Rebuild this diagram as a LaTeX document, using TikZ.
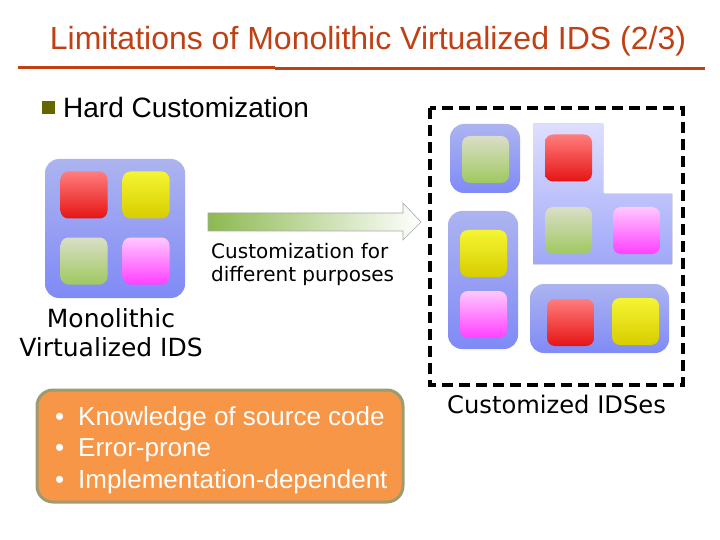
\documentclass[tikz,border=0pt]{standalone}
\usepackage{fontspec}
\setmainfont{Liberation Sans}
\newfontfamily\verd{DejaVu Sans}
\definecolor{titlered}{RGB}{192,64,20}
\definecolor{olivebox}{RGB}{102,102,0}
\definecolor{idstop}{RGB}{172,180,240}
\definecolor{idsbot}{RGB}{128,138,246}
\definecolor{ltop}{RGB}{222,222,255}
\definecolor{lbot}{RGB}{160,168,248}
\definecolor{notefill}{RGB}{247,150,70}
\definecolor{noteline}{RGB}{156,156,112}
\definecolor{arrowgreen}{RGB}{140,185,80}
\begin{document}
\begin{tikzpicture}[x=1pt, y=-1pt,
    panel/.style={rounded corners=14pt, top color=idstop, bottom color=idsbot, inner sep=0pt},
    tile/.style={rounded corners=8pt, minimum size=47pt, inner sep=0pt},
    redtile/.style={tile, top color={rgb,255:red,255;green,125;blue,125}, bottom color={rgb,255:red,230;green,20;blue,20}},
    yellowtile/.style={tile, top color={rgb,255:red,245;green,245;blue,50}, bottom color={rgb,255:red,215;green,205;blue,0}},
    greentile/.style={tile, top color={rgb,255:red,218;green,222;blue,200}, bottom color={rgb,255:red,160;green,200;blue,95}},
    pinktile/.style={tile, top color={rgb,255:red,255;green,200;blue,255}, bottom color={rgb,255:red,255;green,64;blue,255}},
    notetext/.style={anchor=base west, inner sep=0pt, text=white, font=\fontsize{26}{30}\selectfont}]

    \useasboundingbox (0,0) rectangle (720,540);

    % 1. Title and rule
    \node[text=titlered, font=\fontsize{32}{36}\selectfont] (title) at (368,41) {Limitations of Monolithic Virtualized IDS (2/3)};
    \draw[titlered, line width=3pt] (18,67.5) -- (275,67.5);
    \draw[titlered, line width=3pt] (275,69) -- (705,69);

    % 2. Bullet heading
    \fill[olivebox] (42,101) rectangle (55,114);
    \node[anchor=base west, inner sep=0pt, font=\fontsize{28}{32}\selectfont] (hard) at (63,118) {Hard Customization};

    % 3. Monolithic IDS
    \node[panel, minimum width=140pt, minimum height=139pt] (mono) at (115,228.5) {};
    \node[redtile] (m1) at (84,195) {};
    \node[yellowtile] (m2) at (146,195) {};
    \node[greentile] (m3) at (84,261) {};
    \node[pinktile] (m4) at (146,261) {};
    \node[anchor=north, inner sep=0pt, align=center, font=\verd\fontsize{25}{29}\selectfont] (monolabel) at (111,308) {Monolithic\\Virtualized IDS};

    % 4. Arrow
    \draw[gray!70, line width=0.6pt, left color=arrowgreen, right color=white]
        (208,213) -- (403,213) -- (403,203) -- (421,222) -- (403,240) -- (403,231) -- (208,231) -- cycle;
    \node[anchor=north west, inner sep=0pt, align=left, font=\verd\fontsize{20}{23.5}\selectfont] (purpose) at (211,243) {Customization for\\different purposes};

    % 5. Customized IDSes
    \draw[line width=3.5pt, dash pattern=on 11pt off 6pt] (430,108) rectangle (683,385);
    \node[panel, minimum width=70pt, minimum height=69pt] (ca) at (485,158.5) {};
    \node[greentile] (a1) at (485.5,159.5) {};
    \fill[top color=ltop, bottom color=lbot] (533,124) -- (603,124) -- (603,194) -- (672,194) -- (672,264) -- (533,264) -- cycle;
    \node[redtile] (b1) at (568.5,158) {};
    \node[greentile] (b2) at (568.5,230.5) {};
    \node[pinktile] (b3) at (636.5,230.5) {};
    \node[panel, minimum width=70pt, minimum height=138pt] (cc) at (483,280) {};
    \node[yellowtile] (c1) at (483.5,253.5) {};
    \node[pinktile] (c2) at (483.5,314.5) {};
    \node[panel, minimum width=139pt, minimum height=69pt] (cd) at (599.5,318.5) {};
    \node[redtile] (d1) at (570.5,322.5) {};
    \node[yellowtile] (d2) at (635.5,321.5) {};
    \node[anchor=base west, inner sep=0pt, font=\verd\fontsize{24.2}{28}\selectfont] (custlabel) at (447,413) {Customized IDSes};

    % 6. Limitations box
    \node[draw=noteline, fill=notefill, line width=3pt, rounded corners=16pt, minimum width=366pt, minimum height=112pt] (limits) at (220,446) {};
    \node[notetext] (item1) at (55,425) {\makebox[23pt][l]{•}Knowledge of source code};
    \node[notetext] (item2) at (55,456.5) {\makebox[23pt][l]{•}Error-prone};
    \node[notetext] (item3) at (55,488) {\makebox[23pt][l]{•}Implementation-dependent};

\end{tikzpicture}
\end{document}
